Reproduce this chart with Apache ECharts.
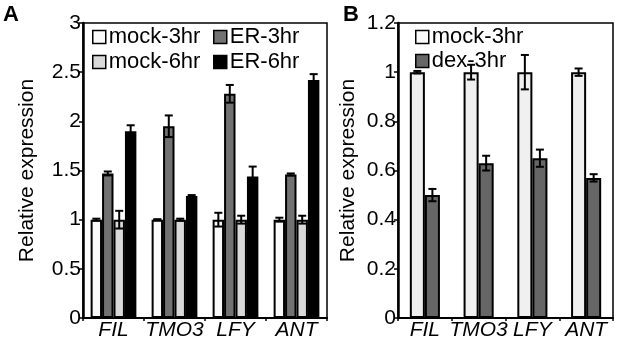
<!DOCTYPE html>
<html><head><meta charset="utf-8">
<script src="https://cdn.jsdelivr.net/npm/echarts@6/dist/echarts.min.js"></script>
<style>html,body{margin:0;padding:0;background:#fff}#c{width:617px;height:341px}</style>
</head><body><div id="c"></div>
<script>
// ---- Data ----
const categories = ['FIL', 'TMO3', 'LFY', 'ANT'];
// Panel A
const mock3A = [1.0, 1.0, 1.0, 1.0];
const mock3AErr = [0.01, 0.005, 0.07, 0.02];
const er3A = [1.47, 1.95, 2.28, 1.46];
const er3AErr = [0.02, 0.11, 0.09, 0.01];
const mock6A = [1.0, 1.0, 1.0, 1.0];
const mock6AErr = [0.09, 0.01, 0.04, 0.04];
const er6A = [1.90, 1.24, 1.44, 2.42];
const er6AErr = [0.06, 0.01, 0.10, 0.06];
// Panel B
const mock3B = [1.0, 1.0, 1.0, 1.0];
const mock3BErr = [0.005, 0.03, 0.07, 0.015];
const dex3B = [0.50, 0.63, 0.65, 0.57];
const dex3BErr = [0.025, 0.03, 0.035, 0.015];
const ticksA = [0, 0.5, 1, 1.5, 2, 2.5, 3];
const ticksB = [0, 0.2, 0.4, 0.6, 0.8, 1, 1.2];

const FONT = 'Liberation Sans';
const GAP_A = 0.25, GAP_B = 0.44;

function errRender(idx, n, gap) {
  return function (params, api) {
    const x = api.value(0), v = api.value(1), e = api.value(2);
    const band = api.size([1, 0])[0];
    const total = band * (1 - gap);
    const bw = total / n;
    const cx = api.coord([x, v])[0] - total / 2 + bw * (idx + 0.5);
    const top = api.coord([x, v + e])[1];
    const bot = api.coord([x, v - e])[1];
    const hw = 4;
    const st = { stroke: '#000', lineWidth: 2 };
    return { type: 'group', children: [
      { type: 'line', shape: { x1: cx, y1: top, x2: cx, y2: bot }, style: st },
      { type: 'line', shape: { x1: cx - hw, y1: top, x2: cx + hw, y2: top }, style: st },
      { type: 'line', shape: { x1: cx - hw, y1: bot, x2: cx + hw, y2: bot }, style: st }
    ] };
  };
}
function errData(vals, errs) { return vals.map((v, i) => [i, v, errs[i]]); }

function barS(name, data, color, ax, gap) {
  return { name, type: 'bar', data, xAxisIndex: ax, yAxisIndex: ax,
    barGap: '0%', barCategoryGap: (gap * 100) + '%',
    itemStyle: { color, borderColor: '#000', borderWidth: 2 }, z: 2 };
}
function errS(vals, errs, idx, n, gap, ax) {
  return { type: 'custom', xAxisIndex: ax, yAxisIndex: ax, data: errData(vals, errs),
    renderItem: errRender(idx, n, gap), z: 5, silent: true };
}

function xAx(gi) {
  return { type: 'category', gridIndex: gi, data: categories,
    axisLine: { lineStyle: { color: '#000', width: 2 } },
    axisTick: { show: true, length: 3, lineStyle: { color: '#000', width: 1.5 } },
    axisLabel: { color: '#000', fontFamily: FONT, fontSize: 21, fontStyle: 'italic', margin: 2, interval: 0 } };
}
function yAx(gi, ticks, gap) {
  return { type: 'value', gridIndex: gi, min: ticks[0], max: ticks[ticks.length - 1],
    interval: ticks[1] - ticks[0],
    name: 'Relative expression', nameLocation: 'middle', nameGap: gap,
    nameTextStyle: { color: '#000', fontFamily: FONT, fontSize: 21 },
    axisLine: { show: true, lineStyle: { color: '#000', width: 2.5 } },
    axisTick: { show: true, length: 4, lineStyle: { color: '#000', width: 1.5 } },
    splitLine: { show: false },
    axisLabel: { color: '#000', fontFamily: FONT, fontSize: 21, margin: 2 } };
}
function leg(name, left, top) {
  return { data: [name], left, top, itemWidth: 13, itemHeight: 13, icon: 'rect',
    itemStyle: { borderColor: '#000', borderWidth: 1.5 }, padding: 0, itemGap: 0,
    textStyle: { color: '#000', fontFamily: FONT, fontSize: 22, padding: [0, 0, 0, -2] } };
}

const option = {
  animation: false,
  grid: [
    { left: 83, top: 23, width: 244, height: 297, show: true, borderColor: '#000', borderWidth: 1.5, backgroundColor: 'transparent' },
    { left: 398, top: 23, width: 215, height: 295, show: true, borderColor: '#000', borderWidth: 1.5, backgroundColor: 'transparent' }
  ],
  xAxis: [xAx(0), xAx(1)],
  yAxis: [yAx(0, ticksA, 45), yAx(1, ticksB, 39)],
  legend: [
    leg('mock-3hr', 92, 26), leg('ER-3hr', 213, 26),
    leg('mock-6hr', 92, 51), leg('ER-6hr', 213, 51),
    leg('mock-3hr', 415, 26),
    leg('dex-3hr', 415, 50)
  ],
  graphic: [
    { type: 'text', left: 3, top: 4, style: { text: 'A', font: 'bold 22px ' + FONT, fill: '#000' } },
    { type: 'text', left: 343, top: 4, style: { text: 'B', font: 'bold 22px ' + FONT, fill: '#000' } }
  ],
  series: [
    barS('mock-3hr', mock3A, '#fafafa', 0, GAP_A),
    barS('ER-3hr', er3A, '#727272', 0, GAP_A),
    barS('mock-6hr', mock6A, '#d9d9d9', 0, GAP_A),
    barS('ER-6hr', er6A, '#000000', 0, GAP_A),
    errS(mock3A, mock3AErr, 0, 4, GAP_A, 0),
    errS(er3A, er3AErr, 1, 4, GAP_A, 0),
    errS(mock6A, mock6AErr, 2, 4, GAP_A, 0),
    errS(er6A, er6AErr, 3, 4, GAP_A, 0),
    barS('mock-3hr', mock3B, '#f0f0f0', 1, GAP_B),
    barS('dex-3hr', dex3B, '#666666', 1, GAP_B),
    errS(mock3B, mock3BErr, 0, 2, GAP_B, 1),
    errS(dex3B, dex3BErr, 1, 2, GAP_B, 1)
  ]
};
const chart = echarts.init(document.getElementById('c'), null, { renderer: 'canvas' });
chart.setOption(option);
</script></body></html>
